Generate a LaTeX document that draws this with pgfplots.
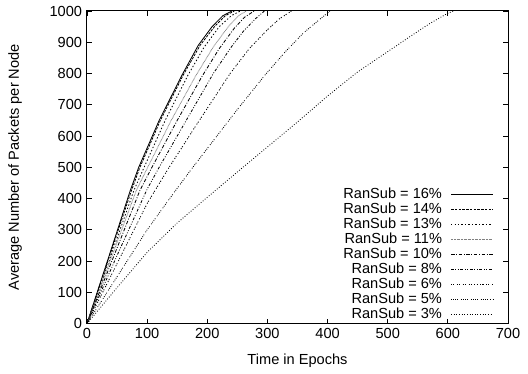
\documentclass[border=0pt]{standalone}
\usepackage{pgfplots}
\pgfplotsset{compat=1.18}
\usepackage{fontspec}
\setmainfont{Liberation Sans}
\begin{document}
\begin{tikzpicture}
\begin{axis}[
  scale only axis,
  width=303pt, height=225pt,
  xmin=0, xmax=700, ymin=0, ymax=1000,
  xtick={0,100,...,700},
  ytick={0,100,...,1000},
  tick align=inside,
  major tick length=3.3pt,
  axis line style={line width=0.7pt},
  every tick/.style={line width=0.6pt, black},
  /pgf/number format/assume math mode=true,
  /pgf/number format/1000 sep={},
  tick label style={font=\fontsize{10.5}{12}\selectfont},
  xlabel={Time in Epochs},
  ylabel={Average Number of Packets per Node},
  every axis x label/.style={at={(axis description cs:0.5,-0.118)}, anchor=center, font=\fontsize{10.5}{12}\selectfont},
  every axis y label/.style={at={(axis description cs:-0.171,0.5)}, rotate=90, anchor=center, font=\fontsize{10.5}{12}\selectfont},
  legend cell align=right,
  legend plot pos=right,
  legend style={draw=none, fill=none, at={(rel axis cs:1,0)}, anchor=south east, xshift=-7.5pt, yshift=-1.3pt,
    font=\fontsize{10.5}{12}\selectfont, row sep=0pt,
    nodes={inner sep=0.5pt, text height=7.6pt, text depth=2.2pt}},
  legend image code/.code={\path[draw=none, fill=none] (0pt,-1pt) rectangle (36pt,1pt); \draw[#1] (6pt,0pt) -- (36pt,0pt);},
  every axis plot/.append style={line width=0.6pt, black},
]
\addplot[solid] coordinates {(0,0)(50,295)(72,426)(86,500)(120,650)(158,795)(185,890)(208,950)(226,985)(241,1000)};
\addlegendentry{RanSub = 16\%}
\addplot[dash pattern=on 1.8pt off 0.9pt] coordinates {(0,0)(50,288)(74,426)(88,500)(122,650)(160,795)(188,890)(212,950)(230,985)(245,1000)};
\addlegendentry{RanSub = 14\%}
\addplot[dash pattern=on 1pt off 1.5pt] coordinates {(0,0)(50,273)(78,426)(95,500)(130,650)(168,795)(195,885)(220,950)(240,985)(255,1000)};
\addlegendentry{RanSub = 13\%}
\addplot[gray, dash pattern=on 0.5pt off 0.5pt] coordinates {(0,0)(50,260)(82,426)(101,500)(140,650)(180,790)(210,885)(235,950)(252,985)(265,1000)};
\addlegendentry{RanSub = 11\%}
\addplot[dash pattern=on 2.5pt off 1.2pt on 0.6pt off 1.2pt] coordinates {(0,0)(50,242)(88,426)(108,500)(150,650)(191,790)(220,880)(245,945)(262,980)(278,1000)};
\addlegendentry{RanSub = 10\%}
\addplot[dash pattern=on 2pt off 1.2pt on 0.6pt off 1.2pt on 0.6pt off 1.2pt] coordinates {(0,0)(50,218)(100,430)(120,500)(165,650)(210,800)(240,885)(260,935)(280,975)(295,1000)};
\addlegendentry{RanSub = 8\%}
\addplot[dash pattern=on 0.8pt off 0.8pt on 0.8pt off 1.8pt] coordinates {(0,0)(50,192)(100,384)(135,495)(180,630)(238,800)(270,880)(300,940)(320,975)(340,1000)};
\addlegendentry{RanSub = 6\%}
\addplot[dash pattern=on 0.6pt off 0.9pt on 0.6pt off 0.9pt on 0.6pt off 0.9pt on 0.6pt off 2pt] coordinates {(0,0)(50,150)(100,300)(145,420)(176,500)(200,560)(250,685)(296,795)(330,870)(360,930)(385,970)(404,1000)};
\addlegendentry{RanSub = 5\%}
\addplot[dash pattern=on 0.6pt off 1.3pt] coordinates {(0,0)(50,115)(100,228)(150,322)(200,404)(250,485)(300,565)(350,645)(400,728)(450,805)(500,870)(537,918)(570,960)(600,993)(610,1000)};
\addlegendentry{RanSub = 3\%}
\coordinate (sw) at (rel axis cs:0,0);
\coordinate (ne) at (rel axis cs:1,1);
\end{axis}
\pgfresetboundingbox
\path[use as bounding box] ([shift={(-62.6pt,-36pt)}]sw) rectangle ([shift={(14.4pt,7.9pt)}]ne);
\end{tikzpicture}
\end{document}
